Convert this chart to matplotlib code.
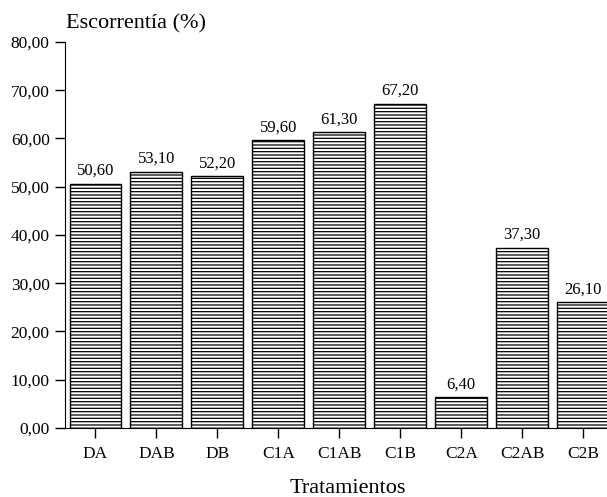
import matplotlib.pyplot as plt

plt.rcParams['font.family'] = ['Liberation Serif', 'DejaVu Serif']
plt.rcParams['hatch.linewidth'] = 0.9

# Data
tratamientos = ["DA", "DAB", "DB", "C1A", "C1AB", "C1B", "C2A", "C2AB", "C2B"]
escorrentia = [50.60, 53.10, 52.20, 59.60, 61.30, 67.20, 6.40, 37.30, 26.10]
yticks = [0, 10, 20, 30, 40, 50, 60, 70, 80]

fig = plt.figure(figsize=(6.07, 4.97), dpi=100)
ax = fig.add_axes([0.107, 0.139, 0.893, 0.7766])

x = list(range(len(tratamientos)))
bars = ax.bar(x, escorrentia, width=0.85, color="white", edgecolor="black",
              linewidth=1.0, hatch="-----")

for xi, v in zip(x, escorrentia):
    ax.text(xi, v + 1.0, f"{v:.2f}".replace(".", ","), ha="center", va="bottom", fontsize=12)

ax.set_xlim(-0.5, 8.39)
ax.set_ylim(0, 80)
ax.set_xticks(x)
ax.set_xticklabels(tratamientos, fontsize=12.5)
ax.set_yticks(yticks)
ax.set_yticklabels([f"{t:.2f}".replace(".", ",") for t in yticks], fontsize=12.5)
ax.tick_params(axis="x", length=7, width=1, pad=6)
ax.tick_params(axis="y", length=7, width=1, pad=4)

ax.spines["top"].set_visible(False)
ax.spines["right"].set_visible(False)

fig.text(0.108, 0.952, "Escorrentía (%)", ha="left", va="center", fontsize=16)
fig.text(0.573, 0.018, "Tratamientos", ha="center", va="center", fontsize=16)

plt.savefig("out.png", dpi=100)
